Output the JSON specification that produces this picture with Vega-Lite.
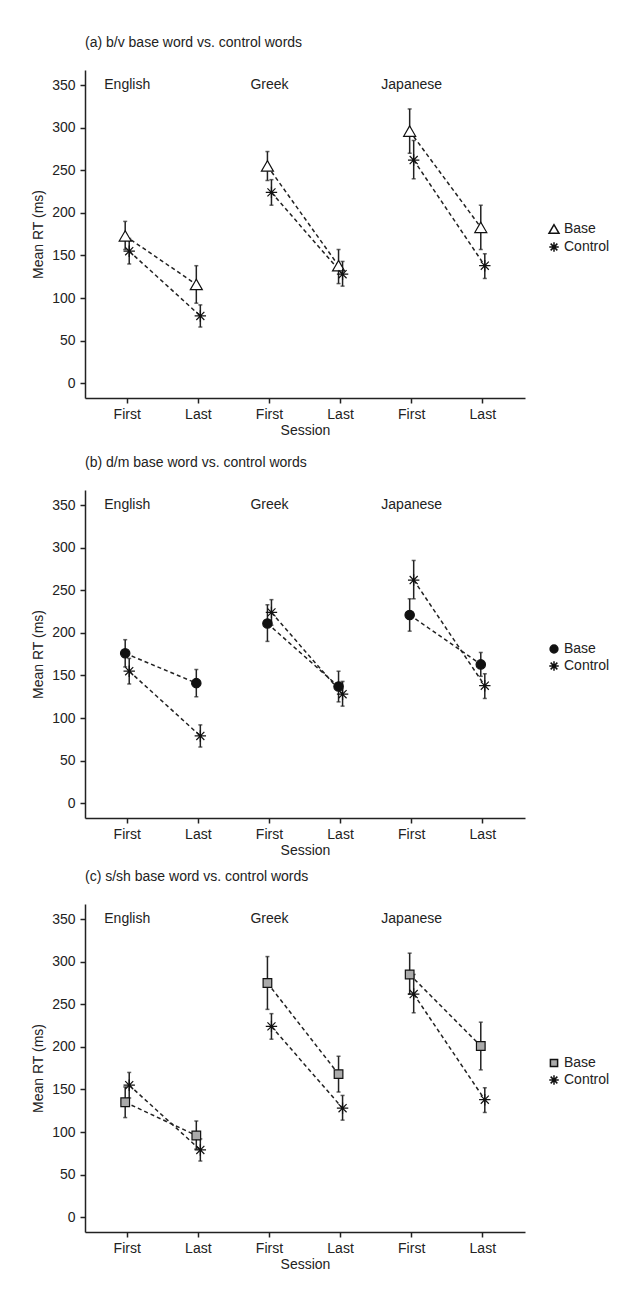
{
  "$schema": "https://vega.github.io/schema/vega-lite/v6.json",
  "padding": {"left": 31, "top": 36, "right": 106, "bottom": 0},
  "background": "white",
  "datasets": {
    "rt": [
      {"panel": "a", "lang": "English", "session": "First", "cond": "English First", "type": "Base", "mean": 173, "lo": 157, "hi": 190},
      {"panel": "a", "lang": "English", "session": "Last", "cond": "English Last", "type": "Base", "mean": 116, "lo": 94, "hi": 138},
      {"panel": "a", "lang": "Greek", "session": "First", "cond": "Greek First", "type": "Base", "mean": 255, "lo": 238, "hi": 272},
      {"panel": "a", "lang": "Greek", "session": "Last", "cond": "Greek Last", "type": "Base", "mean": 138, "lo": 117, "hi": 157},
      {"panel": "a", "lang": "Japanese", "session": "First", "cond": "Japanese First", "type": "Base", "mean": 296, "lo": 270, "hi": 322},
      {"panel": "a", "lang": "Japanese", "session": "Last", "cond": "Japanese Last", "type": "Base", "mean": 183, "lo": 157, "hi": 209},
      {"panel": "a", "lang": "English", "session": "First", "cond": "English First", "type": "Control", "mean": 155, "lo": 140, "hi": 170},
      {"panel": "a", "lang": "English", "session": "Last", "cond": "English Last", "type": "Control", "mean": 79, "lo": 66, "hi": 92},
      {"panel": "a", "lang": "Greek", "session": "First", "cond": "Greek First", "type": "Control", "mean": 224, "lo": 209, "hi": 239},
      {"panel": "a", "lang": "Greek", "session": "Last", "cond": "Greek Last", "type": "Control", "mean": 128, "lo": 114, "hi": 143},
      {"panel": "a", "lang": "Japanese", "session": "First", "cond": "Japanese First", "type": "Control", "mean": 262, "lo": 240, "hi": 285},
      {"panel": "a", "lang": "Japanese", "session": "Last", "cond": "Japanese Last", "type": "Control", "mean": 138, "lo": 123, "hi": 152},
      {"panel": "b", "lang": "English", "session": "First", "cond": "English First", "type": "Base", "mean": 176, "lo": 160, "hi": 192},
      {"panel": "b", "lang": "English", "session": "Last", "cond": "English Last", "type": "Base", "mean": 141, "lo": 125, "hi": 157},
      {"panel": "b", "lang": "Greek", "session": "First", "cond": "Greek First", "type": "Base", "mean": 211, "lo": 190, "hi": 233},
      {"panel": "b", "lang": "Greek", "session": "Last", "cond": "Greek Last", "type": "Base", "mean": 137, "lo": 119, "hi": 155},
      {"panel": "b", "lang": "Japanese", "session": "First", "cond": "Japanese First", "type": "Base", "mean": 221, "lo": 202, "hi": 240},
      {"panel": "b", "lang": "Japanese", "session": "Last", "cond": "Japanese Last", "type": "Base", "mean": 163, "lo": 149, "hi": 177},
      {"panel": "b", "lang": "English", "session": "First", "cond": "English First", "type": "Control", "mean": 155, "lo": 140, "hi": 170},
      {"panel": "b", "lang": "English", "session": "Last", "cond": "English Last", "type": "Control", "mean": 79, "lo": 66, "hi": 92},
      {"panel": "b", "lang": "Greek", "session": "First", "cond": "Greek First", "type": "Control", "mean": 224, "lo": 209, "hi": 239},
      {"panel": "b", "lang": "Greek", "session": "Last", "cond": "Greek Last", "type": "Control", "mean": 128, "lo": 114, "hi": 143},
      {"panel": "b", "lang": "Japanese", "session": "First", "cond": "Japanese First", "type": "Control", "mean": 262, "lo": 240, "hi": 285},
      {"panel": "b", "lang": "Japanese", "session": "Last", "cond": "Japanese Last", "type": "Control", "mean": 138, "lo": 123, "hi": 152},
      {"panel": "c", "lang": "English", "session": "First", "cond": "English First", "type": "Base", "mean": 135, "lo": 117, "hi": 153},
      {"panel": "c", "lang": "English", "session": "Last", "cond": "English Last", "type": "Base", "mean": 96, "lo": 80, "hi": 113},
      {"panel": "c", "lang": "Greek", "session": "First", "cond": "Greek First", "type": "Base", "mean": 275, "lo": 244, "hi": 306},
      {"panel": "c", "lang": "Greek", "session": "Last", "cond": "Greek Last", "type": "Base", "mean": 168, "lo": 147, "hi": 189},
      {"panel": "c", "lang": "Japanese", "session": "First", "cond": "Japanese First", "type": "Base", "mean": 285, "lo": 262, "hi": 310},
      {"panel": "c", "lang": "Japanese", "session": "Last", "cond": "Japanese Last", "type": "Base", "mean": 201, "lo": 173, "hi": 229},
      {"panel": "c", "lang": "English", "session": "First", "cond": "English First", "type": "Control", "mean": 155, "lo": 140, "hi": 170},
      {"panel": "c", "lang": "English", "session": "Last", "cond": "English Last", "type": "Control", "mean": 79, "lo": 66, "hi": 92},
      {"panel": "c", "lang": "Greek", "session": "First", "cond": "Greek First", "type": "Control", "mean": 224, "lo": 209, "hi": 239},
      {"panel": "c", "lang": "Greek", "session": "Last", "cond": "Greek Last", "type": "Control", "mean": 128, "lo": 114, "hi": 143},
      {"panel": "c", "lang": "Japanese", "session": "First", "cond": "Japanese First", "type": "Control", "mean": 262, "lo": 240, "hi": 285},
      {"panel": "c", "lang": "Japanese", "session": "Last", "cond": "Japanese Last", "type": "Control", "mean": 138, "lo": 123, "hi": 152}
    ]
  },
  "config": {
    "font": "Liberation Sans",
    "view": {"stroke": null},
    "axis": {
      "labelFont": "Liberation Sans", "titleFont": "Liberation Sans",
      "labelFontSize": 14, "titleFontSize": 14, "titleFontWeight": "normal",
      "labelColor": "#222", "titleColor": "#222",
      "domainColor": "#222", "tickColor": "#222",
      "domainWidth": 1.5, "tickWidth": 1.5, "tickSize": 5, "grid": false
    },
    "title": {"font": "Liberation Sans", "fontSize": 14, "fontWeight": "normal", "anchor": "start", "frame": "group", "color": "#222", "offset": 20},
    "legend": {"labelFont": "Liberation Sans", "labelFontSize": 14, "labelColor": "#222", "padding": 0}
  },
  "spacing": 19,
  "resolve": {"scale": {"shape": "independent", "fill": "independent"}},
  "vconcat": [
    {
      "title": "(a) b/v base word vs. control words",
      "width": 440, "height": 328,
      "data": {"name": "rt"},
      "transform": [{"filter": "datum.panel == 'a'"}],
      "encoding": {
        "x": {"field": "cond", "type": "nominal", "sort": ["English First", "English Last", "Greek First", "Greek Last", "Japanese First", "Japanese Last"],
          "scale": {"type": "band", "paddingInner": 0.887, "paddingOuter": 0.537},
          "axis": {"title": "Session", "labelAngle": 0, "labelExpr": "(datum.label == 'English First' || datum.label == 'Greek First' || datum.label == 'Japanese First') ? 'First' : 'Last'", "bandPosition": 0.5, "labelPadding": 4, "titlePadding": 2}}
      },
      "layer": [
        {"mark": {"type": "line", "strokeDash": [4, 3], "strokeWidth": 1.5, "color": "#222"},
         "encoding": {"xOffset": {"field": "type", "type": "nominal", "sort": ["Base", "Control"]},
           "y": {"field": "mean", "type": "quantitative", "title": "Mean RT (ms)", "scale": {"domain": [-17.3, 367.7], "nice": false, "zero": false}, "axis": {"values": [0, 50, 100, 150, 200, 250, 300, 350], "labelPadding": 5, "titlePadding": 6}},
           "detail": [{"field": "lang"}, {"field": "type"}]}},
        {"mark": {"type": "rule", "strokeWidth": 1.5, "color": "#222"},
         "encoding": {"xOffset": {"field": "type", "type": "nominal", "sort": ["Base", "Control"]}, "y": {"field": "lo", "type": "quantitative", "title": "Mean RT (ms)"}, "y2": {"field": "hi"}}},
        {"mark": {"type": "tick", "size": 4, "thickness": 1.5, "color": "#222"},
         "encoding": {"xOffset": {"field": "type", "type": "nominal", "sort": ["Base", "Control"]}, "y": {"field": "lo", "type": "quantitative", "title": "Mean RT (ms)"}}},
        {"mark": {"type": "tick", "size": 4, "thickness": 1.5, "color": "#222"},
         "encoding": {"xOffset": {"field": "type", "type": "nominal", "sort": ["Base", "Control"]}, "y": {"field": "hi", "type": "quantitative", "title": "Mean RT (ms)"}}},
        {"mark": {"type": "point", "stroke": "#111", "strokeWidth": 1.2, "size": 144, "opacity": 1},
         "encoding": {"xOffset": {"field": "type", "type": "nominal", "sort": ["Base", "Control"]},
           "y": {"field": "mean", "type": "quantitative", "title": "Mean RT (ms)"},
           "shape": {"field": "type", "type": "nominal", "scale": {"domain": ["Base", "Control"], "range": ["triangle-up", "M-0.95,0L0.95,0M0,-0.95L0,0.95M-0.67,-0.67L0.67,0.67M-0.67,0.67L0.67,-0.67"]},
             "legend": {"title": null, "orient": "none", "legendX": 462, "legendY": 152, "symbolSize": 100, "labelOffset": 3, "encode": {"symbols": {"update": {"stroke": {"value": "#111"}, "strokeWidth": {"value": 1.2}}}}}},
           "fill": {"field": "type", "type": "nominal", "scale": {"domain": ["Base", "Control"], "range": ["white", "transparent"]},
             "legend": {"title": null, "orient": "none", "legendX": 462, "legendY": 152, "symbolSize": 100, "labelOffset": 3, "encode": {"symbols": {"update": {"stroke": {"value": "#111"}, "strokeWidth": {"value": 1.2}}}}}}}},
        {"transform": [{"filter": "datum.session == 'First' && datum.type == 'Base'"}],
         "mark": {"type": "text", "fontSize": 14, "color": "#222", "font": "Liberation Sans"},
         "encoding": {"y": {"datum": 350, "type": "quantitative", "title": "Mean RT (ms)"}, "text": {"field": "lang"}}}
      ]
    },
    {
      "spacing": 13,
      "resolve": {"scale": {"shape": "independent", "fill": "independent"}},
      "vconcat": [
        {
          "title": "(b) d/m base word vs. control words",
          "width": 440, "height": 328,
          "data": {"name": "rt"},
          "transform": [{"filter": "datum.panel == 'b'"}],
          "encoding": {
            "x": {"field": "cond", "type": "nominal", "sort": ["English First", "English Last", "Greek First", "Greek Last", "Japanese First", "Japanese Last"],
              "scale": {"type": "band", "paddingInner": 0.887, "paddingOuter": 0.537},
              "axis": {"title": "Session", "labelAngle": 0, "labelExpr": "(datum.label == 'English First' || datum.label == 'Greek First' || datum.label == 'Japanese First') ? 'First' : 'Last'", "bandPosition": 0.5, "labelPadding": 4, "titlePadding": 2}}
          },
          "layer": [
            {"mark": {"type": "line", "strokeDash": [4, 3], "strokeWidth": 1.5, "color": "#222"},
             "encoding": {"xOffset": {"field": "type", "type": "nominal", "sort": ["Base", "Control"]},
               "y": {"field": "mean", "type": "quantitative", "title": "Mean RT (ms)", "scale": {"domain": [-17.3, 367.7], "nice": false, "zero": false}, "axis": {"values": [0, 50, 100, 150, 200, 250, 300, 350], "labelPadding": 5, "titlePadding": 6}},
               "detail": [{"field": "lang"}, {"field": "type"}]}},
            {"mark": {"type": "rule", "strokeWidth": 1.5, "color": "#222"},
             "encoding": {"xOffset": {"field": "type", "type": "nominal", "sort": ["Base", "Control"]}, "y": {"field": "lo", "type": "quantitative", "title": "Mean RT (ms)"}, "y2": {"field": "hi"}}},
            {"mark": {"type": "tick", "size": 4, "thickness": 1.5, "color": "#222"},
             "encoding": {"xOffset": {"field": "type", "type": "nominal", "sort": ["Base", "Control"]}, "y": {"field": "lo", "type": "quantitative", "title": "Mean RT (ms)"}}},
            {"mark": {"type": "tick", "size": 4, "thickness": 1.5, "color": "#222"},
             "encoding": {"xOffset": {"field": "type", "type": "nominal", "sort": ["Base", "Control"]}, "y": {"field": "hi", "type": "quantitative", "title": "Mean RT (ms)"}}},
            {"mark": {"type": "point", "stroke": "#111", "strokeWidth": 1.2, "size": 144, "opacity": 1},
             "encoding": {"xOffset": {"field": "type", "type": "nominal", "sort": ["Base", "Control"]},
               "y": {"field": "mean", "type": "quantitative", "title": "Mean RT (ms)"},
               "shape": {"field": "type", "type": "nominal", "scale": {"domain": ["Base", "Control"], "range": ["M-0.78,0A0.78,0.78 0 1,0 0.78,0A0.78,0.78 0 1,0 -0.78,0Z", "M-0.95,0L0.95,0M0,-0.95L0,0.95M-0.67,-0.67L0.67,0.67M-0.67,0.67L0.67,-0.67"]},
                 "legend": {"title": null, "orient": "none", "legendX": 462, "legendY": 152, "symbolSize": 100, "labelOffset": 3, "encode": {"symbols": {"update": {"stroke": {"value": "#111"}, "strokeWidth": {"value": 1.2}}}}}},
               "fill": {"field": "type", "type": "nominal", "scale": {"domain": ["Base", "Control"], "range": ["#111111", "transparent"]},
                 "legend": {"title": null, "orient": "none", "legendX": 462, "legendY": 152, "symbolSize": 100, "labelOffset": 3, "encode": {"symbols": {"update": {"stroke": {"value": "#111"}, "strokeWidth": {"value": 1.2}}}}}}}},
            {"transform": [{"filter": "datum.session == 'First' && datum.type == 'Base'"}],
             "mark": {"type": "text", "fontSize": 14, "color": "#222", "font": "Liberation Sans"},
             "encoding": {"y": {"datum": 350, "type": "quantitative", "title": "Mean RT (ms)"}, "text": {"field": "lang"}}}
          ]
        },
        {
          "title": "(c) s/sh base word vs. control words",
          "width": 440, "height": 328,
          "data": {"name": "rt"},
          "transform": [{"filter": "datum.panel == 'c'"}],
          "encoding": {
            "x": {"field": "cond", "type": "nominal", "sort": ["English First", "English Last", "Greek First", "Greek Last", "Japanese First", "Japanese Last"],
              "scale": {"type": "band", "paddingInner": 0.887, "paddingOuter": 0.537},
              "axis": {"title": "Session", "labelAngle": 0, "labelExpr": "(datum.label == 'English First' || datum.label == 'Greek First' || datum.label == 'Japanese First') ? 'First' : 'Last'", "bandPosition": 0.5, "labelPadding": 4, "titlePadding": 2}}
          },
          "layer": [
            {"mark": {"type": "line", "strokeDash": [4, 3], "strokeWidth": 1.5, "color": "#222"},
             "encoding": {"xOffset": {"field": "type", "type": "nominal", "sort": ["Base", "Control"]},
               "y": {"field": "mean", "type": "quantitative", "title": "Mean RT (ms)", "scale": {"domain": [-17.3, 367.7], "nice": false, "zero": false}, "axis": {"values": [0, 50, 100, 150, 200, 250, 300, 350], "labelPadding": 5, "titlePadding": 6}},
               "detail": [{"field": "lang"}, {"field": "type"}]}},
            {"mark": {"type": "rule", "strokeWidth": 1.5, "color": "#222"},
             "encoding": {"xOffset": {"field": "type", "type": "nominal", "sort": ["Base", "Control"]}, "y": {"field": "lo", "type": "quantitative", "title": "Mean RT (ms)"}, "y2": {"field": "hi"}}},
            {"mark": {"type": "tick", "size": 4, "thickness": 1.5, "color": "#222"},
             "encoding": {"xOffset": {"field": "type", "type": "nominal", "sort": ["Base", "Control"]}, "y": {"field": "lo", "type": "quantitative", "title": "Mean RT (ms)"}}},
            {"mark": {"type": "tick", "size": 4, "thickness": 1.5, "color": "#222"},
             "encoding": {"xOffset": {"field": "type", "type": "nominal", "sort": ["Base", "Control"]}, "y": {"field": "hi", "type": "quantitative", "title": "Mean RT (ms)"}}},
            {"mark": {"type": "point", "stroke": "#111", "strokeWidth": 1.2, "size": 144, "opacity": 1},
             "encoding": {"xOffset": {"field": "type", "type": "nominal", "sort": ["Base", "Control"]},
               "y": {"field": "mean", "type": "quantitative", "title": "Mean RT (ms)"},
               "shape": {"field": "type", "type": "nominal", "scale": {"domain": ["Base", "Control"], "range": ["M-0.72,-0.72L0.72,-0.72L0.72,0.72L-0.72,0.72Z", "M-0.95,0L0.95,0M0,-0.95L0,0.95M-0.67,-0.67L0.67,0.67M-0.67,0.67L0.67,-0.67"]},
                 "legend": {"title": null, "orient": "none", "legendX": 462, "legendY": 152, "symbolSize": 100, "labelOffset": 3, "encode": {"symbols": {"update": {"stroke": {"value": "#111"}, "strokeWidth": {"value": 1.2}}}}}},
               "fill": {"field": "type", "type": "nominal", "scale": {"domain": ["Base", "Control"], "range": ["#aaaaaa", "transparent"]},
                 "legend": {"title": null, "orient": "none", "legendX": 462, "legendY": 152, "symbolSize": 100, "labelOffset": 3, "encode": {"symbols": {"update": {"stroke": {"value": "#111"}, "strokeWidth": {"value": 1.2}}}}}}}},
            {"transform": [{"filter": "datum.session == 'First' && datum.type == 'Base'"}],
             "mark": {"type": "text", "fontSize": 14, "color": "#222", "font": "Liberation Sans"},
             "encoding": {"y": {"datum": 350, "type": "quantitative", "title": "Mean RT (ms)"}, "text": {"field": "lang"}}}
          ]
        }
      ]
    }
  ]
}
